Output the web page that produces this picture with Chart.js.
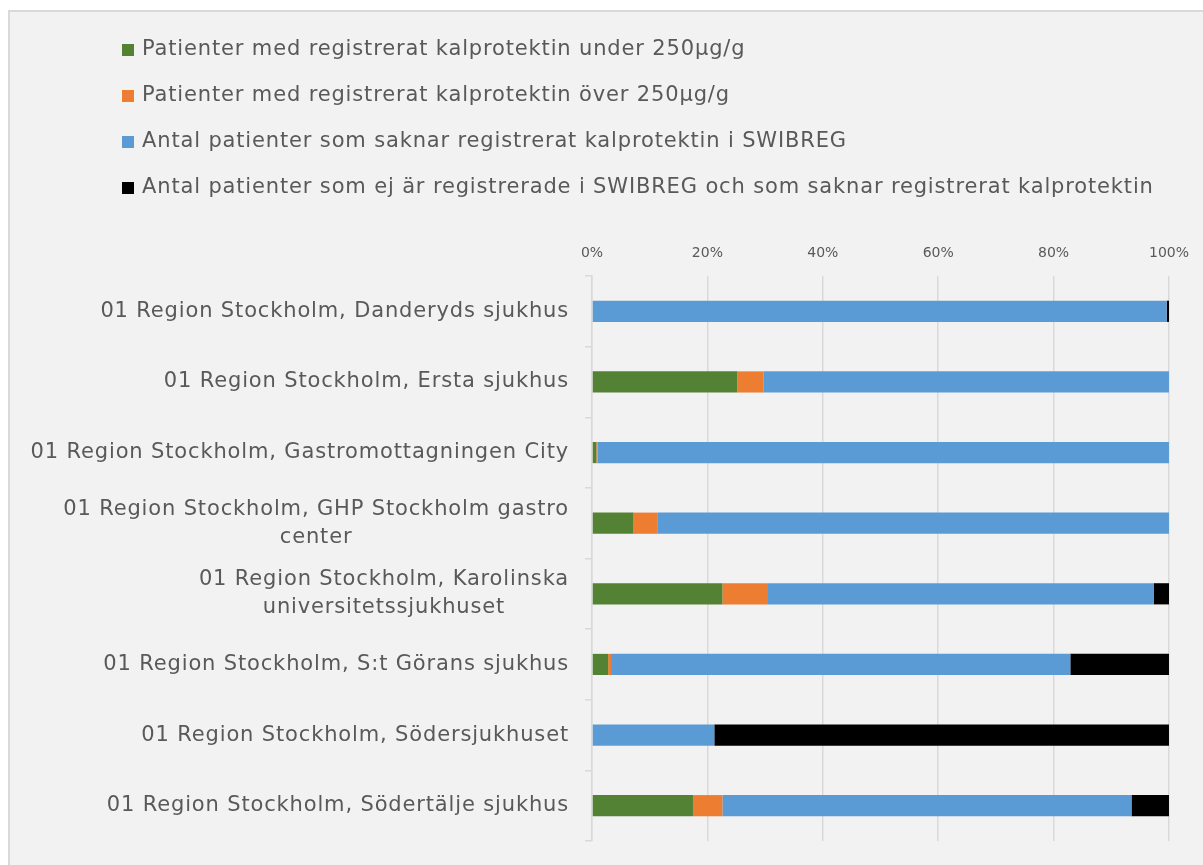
<!DOCTYPE html>
<html>
<head>
<meta charset="utf-8">
<script src="https://cdn.jsdelivr.net/npm/chart.js@4"></script>
<style>
  html, body { margin: 0; padding: 0; background: #ffffff; }
  #wrap { width: 1203px; height: 865px; position: relative; }
</style>
</head>
<body>
<div id="wrap"><canvas id="chart" width="1203" height="865"></canvas></div>
<script>
// kategorier (flerradiga etiketter som arrayer)
const categories = [
    ["01 Region Stockholm, Danderyds sjukhus"],
    ["01 Region Stockholm, Ersta sjukhus"],
    ["01 Region Stockholm, Gastromottagningen City"],
    ["01 Region Stockholm, GHP Stockholm gastro", "center"],
    ["01 Region Stockholm, Karolinska", "universitetssjukhuset"],
    ["01 Region Stockholm, S:t Görans sjukhus"],
    ["01 Region Stockholm, Södersjukhuset"],
    ["01 Region Stockholm, Södertälje sjukhus"]
];

// andelar i procent
const underLimit = [0, 25.2, 0.75, 7.2, 22.6, 2.8, 0, 17.5];
const overLimit = [0, 4.5, 0.2, 4.1, 7.9, 0.5, 0, 5.1];
const missingCalpro = [99.6, 70.3, 99.05, 88.7, 66.9, 79.6, 21.2, 70.9];
const notRegistered = [0.4, 0, 0, 0, 2.6, 17.1, 78.8, 6.5];

const xTicks = [0, 20, 40, 60, 80, 100];

const seriesNames = [
    "Patienter med registrerat kalprotektin under 250µg/g",
    "Patienter med registrerat kalprotektin över 250µg/g",
    "Antal patienter som saknar registrerat kalprotektin i SWIBREG",
    "Antal patienter som ej är registrerade i SWIBREG och som saknar registrerat kalprotektin"
];
const seriesColors = ["#548235", "#ED7D31", "#5B9BD5", "#000000"];

const FONT = "'DejaVu Sans', sans-serif";
const TEXT_COLOR = "#595959";

// bakgrund och ram
const framePlugin = {
    id: "frame",
    beforeDraw(chart) {
        const c = chart.ctx;
        c.save();
        c.fillStyle = "#ffffff";
        c.fillRect(0, 0, chart.width, chart.height);
        c.fillStyle = "#f2f2f2";
        c.fillRect(8, 10, chart.width - 8, chart.height - 10);
        c.strokeStyle = "#d9d9d9";
        c.lineWidth = 2;
        c.beginPath();
        c.moveTo(9, chart.height);
        c.lineTo(9, 11);
        c.lineTo(chart.width, 11);
        c.stroke();
        c.restore();
    }
};

// förklaring (lodrät lista) och kategorietiketter
const textPlugin = {
    id: "texts",
    afterDraw(chart) {
        const c = chart.ctx;
        c.save();
        c.font = "21px " + FONT;
        c.letterSpacing = "0.85px";
        c.textBaseline = "middle";

        // förklaring
        const legendY = [50, 96, 142, 188];
        chart.data.datasets.forEach((ds, i) => {
            c.fillStyle = ds.backgroundColor;
            c.fillRect(122, legendY[i] - 6, 12, 12);
            c.fillStyle = TEXT_COLOR;
            c.textAlign = "left";
            c.fillText(ds.label, 142, legendY[i]);
        });

        // kategorier, blocket högerställt och raderna centrerade
        const yScale = chart.scales.y;
        const rightX = 569;
        const lineH = 28;
        c.textAlign = "center";
        categories.forEach((lines, i) => {
            const yc = yScale.getPixelForValue(i);
            const w = Math.max(...lines.map(l => c.measureText(l).width));
            const cx = rightX - w / 2;
            lines.forEach((l, j) => {
                const y = yc + (j - (lines.length - 1) / 2) * lineH;
                c.fillText(l, cx, y);
            });
        });
        c.restore();
    }
};

const datasets = [underLimit, overLimit, missingCalpro, notRegistered].map((vals, i) => ({
    label: seriesNames[i],
    data: vals,
    backgroundColor: seriesColors[i],
    borderWidth: 0,
    barPercentage: 0.3,
    categoryPercentage: 1.0
}));

new Chart(document.getElementById("chart"), {
    type: "bar",
    data: {
        labels: categories,
        datasets: datasets
    },
    options: {
        indexAxis: "y",
        responsive: false,
        animation: false,
        layout: { padding: { left: 0, right: 34, top: 240, bottom: 24 } },
        plugins: {
            legend: { display: false },
            tooltip: { enabled: false }
        },
        scales: {
            x: {
                position: "top",
                stacked: true,
                min: 0,
                max: 100,
                afterFit(scale) { scale.height = 36; },
                afterBuildTicks(scale) { scale.ticks = xTicks.map(v => ({ value: v })); },
                ticks: {
                    padding: 14,
                    color: TEXT_COLOR,
                    font: { family: FONT, size: 14 },
                    callback: v => v + "%"
                },
                grid: { color: "#d9d9d9", lineWidth: 1.5, drawTicks: false },
                border: { display: false }
            },
            y: {
                stacked: true,
                afterFit(scale) { scale.width = 592; },
                ticks: { display: false },
                grid: {
                    offset: true,
                    drawOnChartArea: false,
                    drawTicks: true,
                    tickLength: 7,
                    color: "#d9d9d9",
                    lineWidth: 1.5
                },
                border: { display: true, color: "#d9d9d9", width: 1.5 }
            }
        }
    },
    plugins: [framePlugin, textPlugin]
});
</script>
</body>
</html>
